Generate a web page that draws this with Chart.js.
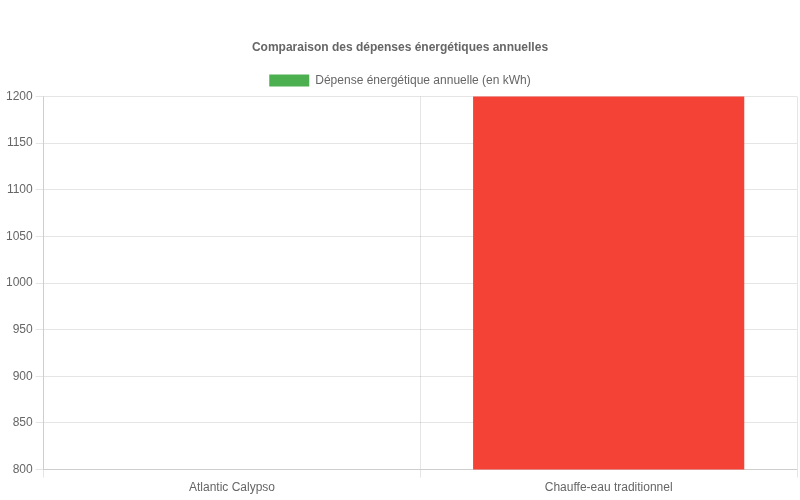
<!DOCTYPE html>
<html>
<head>
<meta charset="utf-8">
<script src="https://cdn.jsdelivr.net/npm/chart.js@4"></script>
<style>
  html, body { margin: 0; padding: 0; background: #fff; }
  #wrap { width: 800px; height: 500px; }
</style>
</head>
<body>
<div id="wrap"><canvas id="myChart"></canvas></div>
<script>
const labels = ['Atlantic Calypso', 'Chauffe-eau traditionnel'];
const consumption = [700, 1400];
const barColors = ['#4CAF50', '#F44336'];

const ctx = document.getElementById('myChart').getContext('2d');

const chart = new Chart(ctx, {
  type: 'bar',
  data: {
    labels: labels,
    datasets: [{
      label: 'Dépense énergétique annuelle (en kWh)',
      backgroundColor: barColors,
      borderColor: barColors,
      data: consumption
    }]
  },
  options: {
    responsive: true,
    maintainAspectRatio: false,
    animation: false,
    layout: { padding: { top: 30, right: 3, bottom: 2, left: 3 } },
    plugins: {
      title: {
        display: true,
        text: 'Comparaison des dépenses énergétiques annuelles'
      }
    },
    scales: {
      y: {
        min: 800,
        max: 1200,
        ticks: { stepSize: 50, callback: v => String(v) }
      }
    }
  }
});
</script>
</body>
</html>
